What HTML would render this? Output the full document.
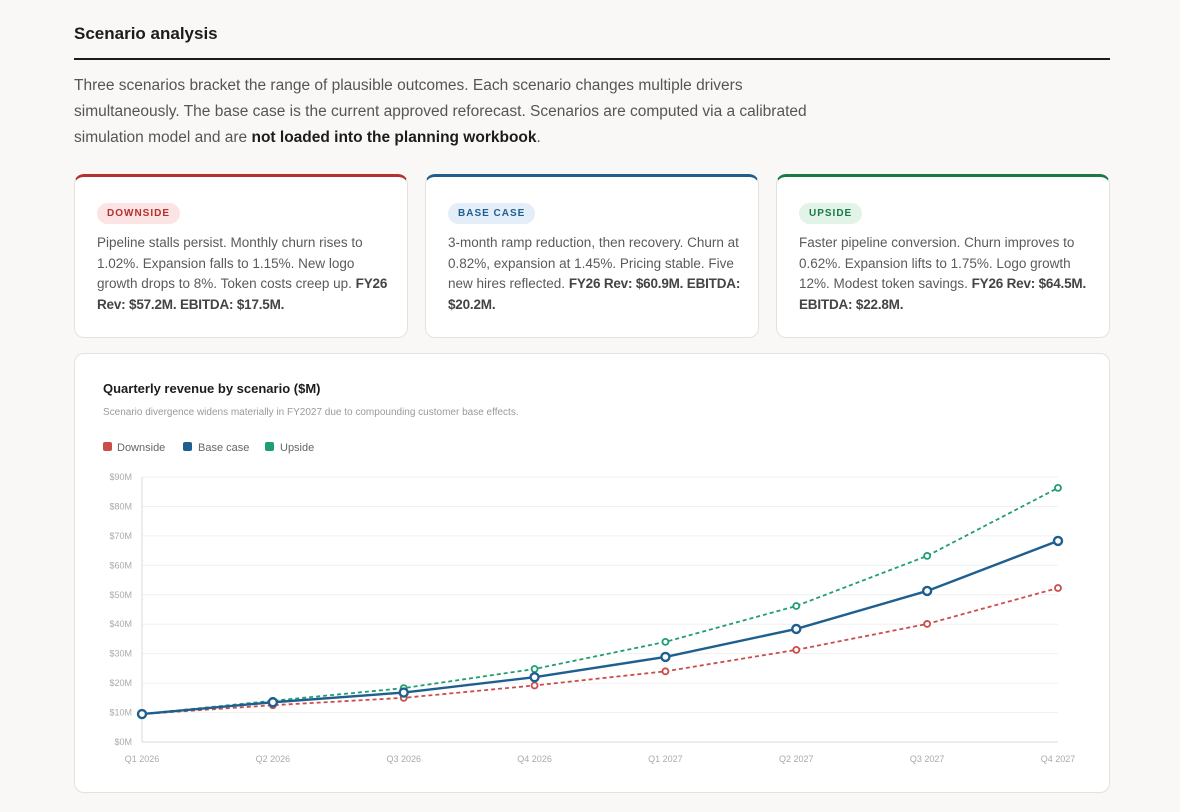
<!DOCTYPE html>
<html><head><meta charset="utf-8">
<style>
*{box-sizing:border-box;margin:0;padding:0}
body{width:1180px;height:812px;background:#f9f8f6;font-family:"Liberation Sans",sans-serif;color:#1f1f1f;position:relative;overflow:hidden}
.h{position:absolute;left:74px;top:24px;font-size:17px;font-weight:bold;color:#1c1c1c}
.rule{position:absolute;left:74px;top:58px;width:1036px;height:2px;background:#1c1c1c}
.intro{position:absolute;left:74px;top:73px;width:745px;font-size:15.5px;line-height:26px;color:#555}
.intro b{color:#1c1c1c;font-weight:bold}
.card{position:absolute;top:174px;width:334px;height:164px;background:#fff;border:1px solid #e4e2dd;border-radius:10px;border-top:3px solid;padding:26px 12px 26px 22px}
.pill{display:inline-block;font-size:10px;font-weight:bold;letter-spacing:1px;padding:5px 10px;border-radius:12px}
.card p{margin-top:9px;font-size:13.5px;line-height:20.5px;color:#5a5a5a}
.card p b{color:#444;letter-spacing:-0.2px}
.chart{position:absolute;left:74px;top:353px;width:1036px;height:440px;background:#fff;border:1px solid #e4e2dd;border-radius:10px}
</style></head><body>
<div class="h">Scenario analysis</div>
<div class="rule"></div>
<div class="intro">Three scenarios bracket the range of plausible outcomes. Each scenario changes multiple drivers simultaneously. The base case is the current approved reforecast. Scenarios are computed via a calibrated simulation model and are <b>not loaded into the planning workbook</b>.</div>

<div class="card" style="left:74px;border-top-color:#b3312f">
<span class="pill" style="background:#fbe4e3;color:#b3312f">DOWNSIDE</span>
<p>Pipeline stalls persist. Monthly churn rises to 1.02%. Expansion falls to 1.15%. New logo growth drops to 8%. Token costs creep up. <b>FY26 Rev: $57.2M. EBITDA: $17.5M.</b></p></div>
<div class="card" style="left:425px;border-top-color:#1f5f8f">
<span class="pill" style="background:#e3eef8;color:#1f5f8f">BASE CASE</span>
<p>3-month ramp reduction, then recovery. Churn at 0.82%, expansion at 1.45%. Pricing stable. Five new hires reflected. <b>FY26 Rev: $60.9M. EBITDA: $20.2M.</b></p></div>
<div class="card" style="left:776px;border-top-color:#1a7a45">
<span class="pill" style="background:#e2f3e8;color:#1a7a45">UPSIDE</span>
<p>Faster pipeline conversion. Churn improves to 0.62%. Expansion lifts to 1.75%. Logo growth 12%. Modest token savings. <b>FY26 Rev: $64.5M. EBITDA: $22.8M.</b></p></div>

<div class="chart"></div>
<svg id="svg" width="1180" height="812" style="position:absolute;left:0;top:0">
<text x="103" y="393" font-size="13" font-weight="bold" fill="#1c1c1c">Quarterly revenue by scenario ($M)</text>
<text x="103" y="415" font-size="10" fill="#9a9a9a">Scenario divergence widens materially in FY2027 due to compounding customer base effects.</text>
<g font-size="11" fill="#666">
<rect x="103" y="442" width="9" height="9" rx="2" fill="#cc4c4c"/><text x="117" y="451">Downside</text>
<rect x="183" y="442" width="9" height="9" rx="2" fill="#1f5f8f"/><text x="198" y="451">Base case</text>
<rect x="265" y="442" width="9" height="9" rx="2" fill="#1f9e72"/><text x="280" y="451">Upside</text>
</g>
<g id="plot"></g>
</svg>
<script>
const categories=["Q1 2026","Q2 2026","Q3 2026","Q4 2026","Q1 2027","Q2 2027","Q3 2027","Q4 2027"];
const downside=[9.5,12.5,15,19.2,24,31.3,40.1,52.3];
const base=[9.5,13.5,16.8,22,28.9,38.4,51.3,68.3];
const upside=[9.5,14,18.3,24.8,34,46.2,63.2,86.3];
const yTicks=[0,10,20,30,40,50,60,70,80,90];
const NS="http://www.w3.org/2000/svg";
const g=document.getElementById('plot');
const x=i=>142+i*(1058-142)/(categories.length-1);
const y=v=>742-v*(742-477)/90;
function mk(t,a){const e=document.createElementNS(NS,t);for(const k in a)e.setAttribute(k,a[k]);g.appendChild(e);return e;}
yTicks.forEach(v=>{
 const l=mk('line',{x1:142,x2:1058,y1:y(v),y2:y(v),stroke:v===0?'#d8d8d8':'#f0f0f0','stroke-width':1});
 
 
 const t=mk('text',{x:132,y:y(v)+3,'font-size':9,fill:'#aaa','text-anchor':'end'});t.textContent='$'+v+'M';
 
 
});
const ax=mk('line',{x1:142,x2:142,y1:477,y2:742,stroke:'#d8d8d8'});


categories.forEach((c,i)=>{const t=mk('text',{x:x(i),y:762,'font-size':9,fill:'#aaa','text-anchor':'middle'});t.textContent=c;
 
 });
function series(d,col,dash,w,r,name){
 const p=mk('polyline',{points:d.map((v,i)=>x(i)+','+y(v)).join(' '),fill:'none',stroke:col,'stroke-width':w,'stroke-dasharray':dash});
 
 
 d.forEach((v,i)=>{const c=mk('circle',{cx:x(i),cy:y(v),r:r,fill:'#fff',stroke:col,'stroke-width':w});
 
 });
}
series(downside,'#cc4c4c','4 3',1.8,3,'downside');
series(upside,'#1f9e72','4 3',1.8,3,'upside');
series(base,'#1f5f8f','none',2.4,4,'base');
</script>
</body></html>
